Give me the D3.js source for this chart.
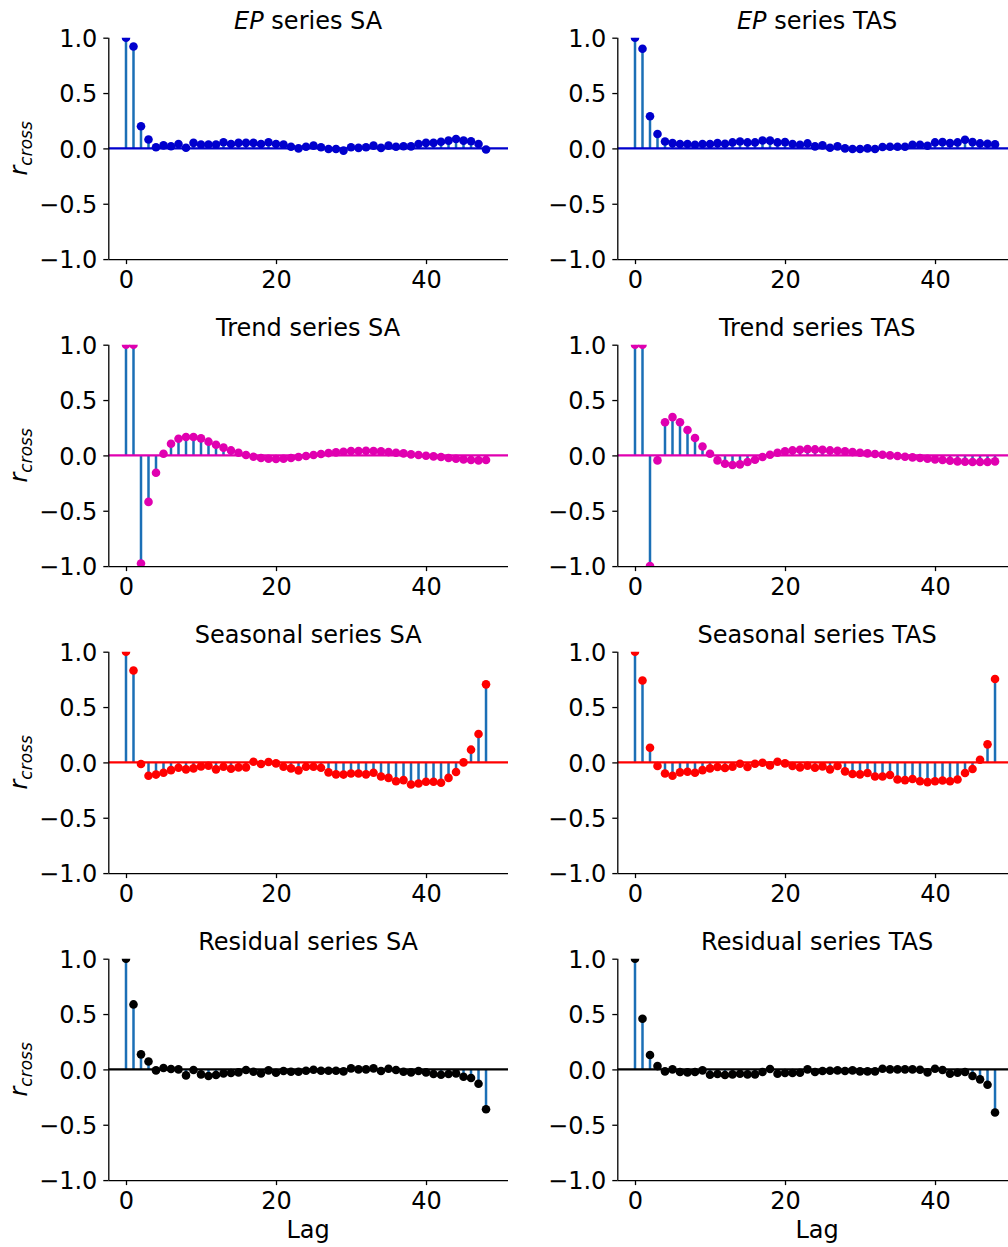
<!DOCTYPE html>
<html>
<head>
<meta charset="utf-8">
<script src="https://cdn.jsdelivr.net/npm/d3@7/dist/d3.min.js"></script>
<style>
  html, body { margin: 0; padding: 0; background: #fff; overflow: hidden; }
  svg { display: block; font-family: "DejaVu Sans", sans-serif; }
</style>
</head>
<body>
<svg id="chart" width="1008" height="1247"></svg>
<script>
// Cross-correlation by lag for each decomposition component (SA and TAS columns)
const lags = d3.range(0, 49);

const epSA = [1.0, 0.92, 0.20, 0.08, 0.01, 0.027, 0.02, 0.04, 0.006, 0.05, 0.035, 0.035, 0.035, 0.055, 0.04, 0.05, 0.05, 0.05, 0.04, 0.055, 0.04, 0.035, 0.015, 0.0, 0.015, 0.025, 0.01, -0.005, -0.005, -0.02, 0.01, 0.005, 0.01, 0.025, 0.005, 0.025, 0.015, 0.02, 0.018, 0.04, 0.05, 0.05, 0.06, 0.07, 0.085, 0.07, 0.065, 0.04, -0.01];
const epTAS = [1.0, 0.90, 0.29, 0.13, 0.063, 0.048, 0.04, 0.04, 0.033, 0.04, 0.04, 0.048, 0.042, 0.054, 0.063, 0.054, 0.054, 0.072, 0.07, 0.054, 0.057, 0.04, 0.033, 0.045, 0.018, 0.027, 0.006, 0.018, 0.0, -0.006, -0.006, 0.0, -0.006, 0.012, 0.015, 0.015, 0.015, 0.033, 0.033, 0.024, 0.054, 0.057, 0.048, 0.054, 0.078, 0.057, 0.045, 0.042, 0.036];
const trendSA = [1.0, 1.0, -0.976, -0.42, -0.157, 0.015, 0.105, 0.15, 0.166, 0.166, 0.154, 0.124, 0.096, 0.07, 0.045, 0.024, 0.003, -0.012, -0.024, -0.03, -0.033, -0.03, -0.024, -0.015, -0.006, 0.003, 0.012, 0.021, 0.027, 0.033, 0.039, 0.039, 0.042, 0.039, 0.036, 0.03, 0.024, 0.018, 0.009, 0.003, -0.003, -0.009, -0.015, -0.024, -0.03, -0.036, -0.042, -0.045, -0.042];
const trendTAS = [1.0, 1.0, -1.0, -0.045, 0.30, 0.346, 0.30, 0.23, 0.157, 0.08, 0.015, -0.045, -0.075, -0.087, -0.081, -0.06, -0.039, -0.015, 0.006, 0.024, 0.036, 0.045, 0.051, 0.057, 0.054, 0.051, 0.045, 0.042, 0.036, 0.03, 0.024, 0.018, 0.012, 0.006, 0.0, -0.006, -0.012, -0.018, -0.024, -0.03, -0.036, -0.042, -0.048, -0.054, -0.057, -0.06, -0.06, -0.06, -0.054];
const seasonalSA = [1.0, 0.83, -0.015, -0.12, -0.11, -0.093, -0.07, -0.048, -0.063, -0.054, -0.036, -0.03, -0.063, -0.039, -0.057, -0.045, -0.045, 0.006, -0.015, 0.003, -0.009, -0.039, -0.054, -0.072, -0.039, -0.039, -0.048, -0.09, -0.108, -0.11, -0.1, -0.1, -0.108, -0.093, -0.127, -0.14, -0.17, -0.16, -0.2, -0.19, -0.175, -0.175, -0.184, -0.14, -0.087, 0.0, 0.115, 0.256, 0.705];
const seasonalTAS = [1.0, 0.74, 0.133, -0.033, -0.1, -0.12, -0.09, -0.084, -0.093, -0.07, -0.054, -0.042, -0.051, -0.039, -0.012, -0.042, -0.012, -0.003, -0.027, 0.006, -0.009, -0.033, -0.045, -0.03, -0.048, -0.036, -0.063, -0.033, -0.081, -0.105, -0.108, -0.096, -0.127, -0.127, -0.114, -0.154, -0.16, -0.15, -0.17, -0.178, -0.17, -0.163, -0.17, -0.154, -0.096, -0.06, 0.024, 0.163, 0.753];
const residualSA = [1.0, 0.587, 0.136, 0.072, -0.009, 0.012, 0.003, 0.0, -0.054, -0.006, -0.045, -0.06, -0.051, -0.036, -0.033, -0.027, -0.006, -0.021, -0.036, -0.009, -0.03, -0.015, -0.021, -0.021, -0.012, -0.003, -0.012, -0.012, -0.012, -0.018, 0.009, 0.0, 0.0, 0.009, -0.015, 0.006, -0.006, -0.021, -0.027, -0.015, -0.027, -0.042, -0.048, -0.042, -0.036, -0.066, -0.078, -0.13, -0.36];
const residualTAS = [1.0, 0.458, 0.13, 0.03, -0.018, 0.0, -0.024, -0.027, -0.024, -0.009, -0.048, -0.042, -0.051, -0.045, -0.039, -0.045, -0.045, -0.024, 0.003, -0.039, -0.033, -0.033, -0.03, 0.0, -0.024, -0.015, -0.012, -0.009, -0.015, -0.009, -0.018, -0.018, -0.018, 0.006, 0.0, 0.0, 0.0, 0.0, -0.003, -0.027, 0.006, -0.006, -0.039, -0.03, -0.024, -0.06, -0.09, -0.139, -0.39];

const components = ["EP", "Trend", "Seasonal", "Residual"];
const regions = ["SA", "TAS"];
const seriesGrid = [
  [epSA, epTAS],
  [trendSA, trendTAS],
  [seasonalSA, seasonalTAS],
  [residualSA, residualTAS]
];
const xTicks = [0, 20, 40];
const yTicks = [-1.0, -0.5, 0.0, 0.5, 1.0];
const xLabel = "Lag";

// styling
const markerColors = ["#0000cd", "#e000b0", "#ff0000", "#000000"];
const stemColor = "#1b6fb6";
const fontSize = 24;

// layout
const panelW = 399.7, panelH = 221.4;
const colX = [108.3, 617.3];
const rowY0 = 37.7, rowStep = 307;

const svg = d3.select("#chart");
const defs = svg.append("defs");

const x = d3.scaleLinear().domain([-2.36, 50.93]).range([0, panelW]);
const y = d3.scaleLinear().domain([-1, 1]).range([panelH, 0]);

seriesGrid.forEach((pair, r) => {
  pair.forEach((vals, c) => {
    const g = svg.append("g")
      .attr("transform", `translate(${colX[c]},${rowY0 + r * rowStep})`);
    const clipId = `clip-${r}-${c}`;
    defs.append("clipPath").attr("id", clipId)
      .append("rect").attr("x", 0).attr("y", 0).attr("width", panelW).attr("height", panelH);

    const data = lags.map((l, i) => ({ lag: l, v: vals[i] }));
    const plot = g.append("g").attr("clip-path", `url(#${clipId})`);

    // stems
    plot.selectAll("line.stem").data(data).join("line")
      .attr("class", "stem")
      .attr("x1", d => x(d.lag)).attr("x2", d => x(d.lag))
      .attr("y1", y(0)).attr("y2", d => y(d.v))
      .attr("stroke", stemColor).attr("stroke-width", 2.5);

    // markers
    plot.selectAll("circle").data(data).join("circle")
      .attr("cx", d => x(d.lag)).attr("cy", d => y(d.v))
      .attr("r", 4.3)
      .attr("fill", markerColors[r]);

    // zero baseline
    plot.append("line")
      .attr("x1", 0).attr("x2", panelW)
      .attr("y1", y(0)).attr("y2", y(0))
      .attr("stroke", markerColors[r]).attr("stroke-width", 2.2);

    // axes
    const yAxis = d3.axisLeft(y).tickValues(yTicks)
      .tickFormat(d => d3.format(".1f")(d).replace("-", "\u2212"))
      .tickSize(5).tickPadding(6);
    const xAxis = d3.axisBottom(x).tickValues(xTicks)
      .tickFormat(d3.format("d")).tickSize(5).tickPadding(6);

    const ya = g.append("g").call(yAxis);
    const xa = g.append("g").attr("transform", `translate(0,${panelH})`).call(xAxis);
    [ya, xa].forEach(a => {
      a.select(".domain").attr("stroke", "#000").attr("stroke-width", 1.3);
      a.selectAll(".tick line").attr("stroke", "#000").attr("stroke-width", 1.3);
      a.selectAll(".tick text").attr("fill", "#000")
        .attr("font-size", fontSize).attr("font-family", "DejaVu Sans");
    });
    // axisLeft/axisBottom draw a path with outer ticks; redraw a plain spine
    ya.select(".domain").attr("d", `M0.5,0V${panelH}`);
    xa.select(".domain").attr("d", `M0,0.5H${panelW}`);
    xa.selectAll(".tick text").attr("dy", null).attr("y", 29.4 - 0);
    ya.selectAll(".tick text").attr("dy", "0.36em");

    // title
    const title = g.append("text")
      .attr("x", panelW / 2).attr("y", -9)
      .attr("text-anchor", "middle")
      .attr("font-size", fontSize).attr("fill", "#000");
    if (components[r] === "EP") {
      title.append("tspan").attr("font-style", "italic").text("EP");
      title.append("tspan").text(` series ${regions[c]}`);
    } else {
      title.text(`${components[r]} series ${regions[c]}`);
    }

    // y label on the left column
    if (c === 0) {
      const yl = g.append("text")
        .attr("transform", `translate(${-81},${panelH / 2}) rotate(-90)`)
        .attr("text-anchor", "middle")
        .attr("font-size", fontSize).attr("fill", "#000");
      yl.append("tspan").attr("font-style", "italic").text("r");
      yl.append("tspan").attr("font-style", "italic").attr("font-size", 17)
        .attr("dy", 5).text("cross");
    }

    // x label on the bottom row
    if (r === seriesGrid.length - 1) {
      g.append("text")
        .attr("x", panelW / 2).attr("y", panelH + 58)
        .attr("text-anchor", "middle")
        .attr("font-size", fontSize).attr("fill", "#000")
        .text(xLabel);
    }
  });
});
</script>
</body>
</html>
